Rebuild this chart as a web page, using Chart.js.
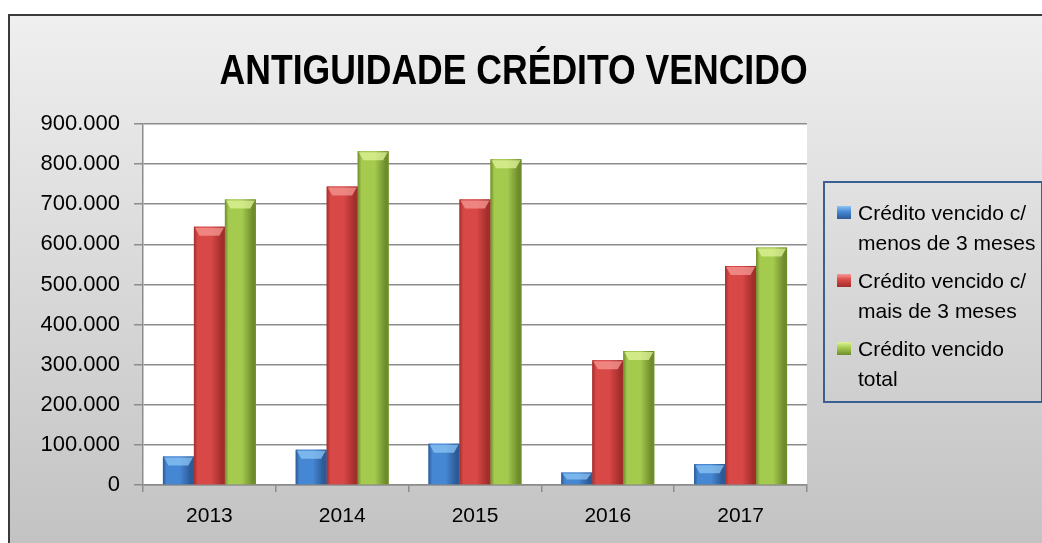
<!DOCTYPE html>
<html>
<head>
<meta charset="utf-8">
<script src="https://cdn.jsdelivr.net/npm/chart.js@4"></script>
<style>
  html, body { margin: 0; padding: 0; background: #fff; }
  #wrap { position: relative; width: 1042px; height: 543px; overflow: hidden; }
  #frame {
    position: absolute; left: 8px; top: 14px; width: 1040px; height: 535px;
    border-left: 2px solid #3a3a3a; border-top: 2px solid #3a3a3a;
    background: linear-gradient(#efefef, #c2c2c2);
  }
  #chart { position: absolute; left: 0; top: 0; }
  #title {
    position: absolute; left: -7px; top: 45px; width: 1042px; text-align: center;
    font-family: "Liberation Sans", Arial, sans-serif; font-weight: bold; font-size: 43px;
    color: #000; white-space: nowrap;
  }
  #title span { display: inline-block; transform-origin: center; }
  #legend {
    position: absolute; left: 823px; top: 181px; width: 220px; height: 222px;
    border: 2px solid #3c5f93; box-sizing: border-box;
    font-family: "Liberation Sans", Arial, sans-serif; font-size: 21px; color: #000;
  }
  .item { position: absolute; left: 33px; line-height: 30px; white-space: nowrap; }
  .mark { position: absolute; left: -21px; top: 8px; width: 14px; height: 13px; }
</style>
</head>
<body>
<div id="wrap">
  <div id="frame"></div>
  <canvas id="chart" width="1042" height="543"></canvas>
  <div id="title"><span id="titleText">ANTIGUIDADE CRÉDITO VENCIDO</span></div>
  <div id="legend"></div>
</div>
<script>
// dados
const years = ['2013', '2014', '2015', '2016', '2017'];
const menos3Meses = [71000, 88000, 103000, 31000, 52000];
const mais3Meses = [644000, 744000, 712000, 311000, 546000];
const totalVencido = [712000, 832000, 812000, 334000, 592000];
const seriesNames = [
  ['Crédito vencido c/', 'menos de 3 meses'],
  ['Crédito vencido c/', 'mais de 3 meses'],
  ['Crédito vencido', 'total']
];
const yTicks = [0, 100000, 200000, 300000, 400000, 500000, 600000, 700000, 800000, 900000];

// cores: borda escura, centro claro, topo
const palette = [
  { edge: '#2b5a96', mid: '#4687d4', top: '#8cc4f4', solid: '#3a73bf' },
  { edge: '#a22e2c', mid: '#d84846', top: '#f79a96', solid: '#c43c3a' },
  { edge: '#6f8c2d', mid: '#a4ca4e', top: '#e0f39a', solid: '#95b844' }
];

const fitTitle = () => {
  const span = document.getElementById('titleText');
  const w = span.getBoundingClientRect().width;
  span.style.transform = 'scaleX(' + (588 / w) + ')';
};
fitTitle();

// legenda
const legend = document.getElementById('legend');
seriesNames.forEach((lines, i) => {
  const item = document.createElement('div');
  item.className = 'item';
  item.style.top = (15 + i * 68) + 'px';
  item.innerHTML = lines.join('<br>');
  const mark = document.createElement('div');
  mark.className = 'mark';
  mark.style.background = 'linear-gradient(' + palette[i].top + ' 0%, ' + palette[i].mid + ' 45%, ' + palette[i].edge + ' 100%)';
  item.appendChild(mark);
  legend.appendChild(item);
});

// fundo branco da área do gráfico
const plotBg = {
  id: 'plotBg',
  beforeDraw(chart) {
    const { ctx, chartArea: a } = chart;
    ctx.save();
    ctx.fillStyle = '#ffffff';
    ctx.fillRect(a.left, a.top, a.right - a.left, a.bottom - a.top);
    ctx.restore();
  }
};

// barras com efeito de relevo
const bevelBars = {
  id: 'bevelBars',
  afterDatasetsDraw(chart) {
    const ctx = chart.ctx;
    chart.data.datasets.forEach((ds, di) => {
      const c = palette[di];
      chart.getDatasetMeta(di).data.forEach(bar => {
        const w = bar.width;
        const x0 = bar.x - w / 2, x1 = bar.x + w / 2;
        const y0 = bar.y, y1 = bar.base;
        ctx.save();
        const g = ctx.createLinearGradient(x0, 0, x1, 0);
        g.addColorStop(0, c.edge);
        g.addColorStop(0.12, c.mid);
        g.addColorStop(0.55, c.mid);
        g.addColorStop(0.9, c.edge);
        g.addColorStop(1, c.edge);
        ctx.fillStyle = g;
        ctx.fillRect(x0, y0, w, y1 - y0);
        // topo
        const h = Math.min(9, (y1 - y0) * 0.6);
        ctx.globalAlpha = 0.75;
        ctx.fillStyle = c.top;
        ctx.beginPath();
        ctx.moveTo(x0 + 1, y0 + 1);
        ctx.lineTo(x1 - 1, y0 + 1);
        ctx.lineTo(x1 - w * 0.18, y0 + h);
        ctx.lineTo(x0 + w * 0.18, y0 + h);
        ctx.closePath();
        ctx.fill();
        ctx.restore();
      });
    });
  }
};

const gridColor = '#8c8c8c';
const yFont = { family: '"Liberation Sans", Arial, sans-serif', size: 22 };
const xFont = { family: '"Liberation Sans", Arial, sans-serif', size: 21 };

new Chart(document.getElementById('chart'), {
  type: 'bar',
  data: {
    labels: years,
    datasets: [
      { label: seriesNames[0].join(' '), data: menos3Meses, backgroundColor: palette[0].solid },
      { label: seriesNames[1].join(' '), data: mais3Meses, backgroundColor: palette[1].solid },
      { label: seriesNames[2].join(' '), data: totalVencido, backgroundColor: palette[2].solid }
    ]
  },
  options: {
    responsive: false,
    animation: false,
    categoryPercentage: 0.7,
    barPercentage: 1.0,
    layout: { padding: { top: 124, right: 235, bottom: 0, left: 0 } },
    plugins: {
      legend: { display: false },
      title: { display: false },
      tooltip: { enabled: false }
    },
    scales: {
      x: {
        grid: { display: true, drawOnChartArea: false, drawTicks: true, tickLength: 7, color: gridColor, lineWidth: 1.5 },
        border: { color: gridColor, width: 1.5 },
        ticks: { font: xFont, color: '#000', padding: 12 },
        afterFit: s => { s.height = 58; }
      },
      y: {
        min: 0,
        max: 900000,
        afterBuildTicks: s => { s.ticks = yTicks.map(v => ({ value: v })); },
        grid: { color: gridColor, lineWidth: 1.5, tickLength: 9 },
        border: { color: gridColor, width: 1.5 },
        ticks: {
          font: yFont,
          color: '#000',
          padding: 14,
          callback: v => v.toLocaleString('de-DE')
        },
        afterFit: s => { s.width = 143; }
      }
    }
  },
  plugins: [plotBg, bevelBars]
});
</script>
</body>
</html>
